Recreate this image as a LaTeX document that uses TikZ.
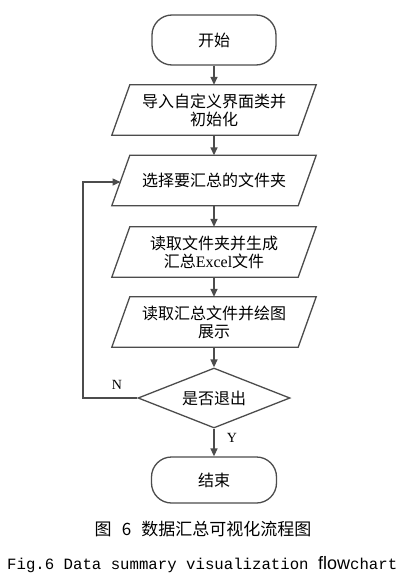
\documentclass[tikz,border=0pt]{standalone}
\usepackage{fontspec}
\newfontfamily\cjk{Noto Sans CJK SC}
\newfontfamily\lmono{Liberation Mono}
\newfontfamily\lserif{Liberation Serif}
\newfontfamily\lsans{Liberation Sans}
\usetikzlibrary{shapes.geometric,arrows.meta}
\definecolor{linec}{gray}{0.3}
\begin{document}
\begin{tikzpicture}[x=1pt,y=-1pt,
  every node/.style={font=\cjk\fontsize{16}{18}\selectfont, text=black},
  term/.style={draw=linec, line width=1.3pt, rounded corners=20pt, minimum width=124pt, minimum height=50pt, inner sep=0},
  parabox/.style={minimum width=186pt, minimum height=50pt, inner sep=0, align=center},
  dec/.style={diamond, draw=linec, line width=1.3pt, aspect=2.53, minimum width=152pt, minimum height=60pt, inner sep=0},
  arr/.style={draw=linec, line width=1.5pt, -{Triangle[length=8pt,width=7pt]}},
  edgeline/.style={draw=linec, line width=1.3pt},
  lab/.style={font=\lserif\fontsize{14}{14}\selectfont}]
\useasboundingbox (0,0) rectangle (411,581);
\fill[white] (0,0) rectangle (411,581);
\node[term] (start) at (214,40) {开始};
\node[parabox] (p1) at (214,110) {导入自定义界面类并\\初始化};
\node[parabox] (p2) at (214,180.5) {选择要汇总的文件夹};
\node[parabox] (p3) at (214,252) {读取文件夹并生成\\汇总{\lserif Excel}文件};
\node[parabox] (p4) at (214,322) {读取汇总文件并绘图\\展示};
\node[dec] (dec) at (214,398) {是否退出};
\node[term, minimum width=125pt, minimum height=46pt] (end) at (214,480) {结束};
\foreach \n in {p1,p2,p3,p4}
  \draw[edgeline] ([xshift=-9pt]\n.south west) -- ([xshift=9pt]\n.north west) -- ([xshift=9pt]\n.north east) -- ([xshift=-9pt]\n.south east) -- cycle;
\draw[arr] (start) -- (p1);
\draw[arr] (p1) -- (p2);
\draw[arr] (p2) -- (p3);
\draw[arr] (p3) -- (p4);
\draw[arr] (p4) -- (dec);
\draw[arr] (dec) -- (end);
\coordinate (lc) at (83,182);
\coordinate (p2in) at (120.5,182);
\draw[arr] (dec.west) -| (lc) -- (p2in);
\node[lab] (nlab) at (117,385) {N};
\node[lab] (ylab) at (232,438) {Y};
\node[font=\cjk\fontsize{17}{17}\selectfont] (cap1) at (203,529) {图\hspace{0.6em}6\hspace{0.6em}数据汇总可视化流程图};
\node[anchor=west, inner sep=0, font=\lmono\fontsize{15.7}{16}\selectfont] (cap2) at (7,565) {Fig.6 Data summary visualization {\lsans\fontsize{18}{16}\selectfont flow}chart};
\end{tikzpicture}
\end{document}
